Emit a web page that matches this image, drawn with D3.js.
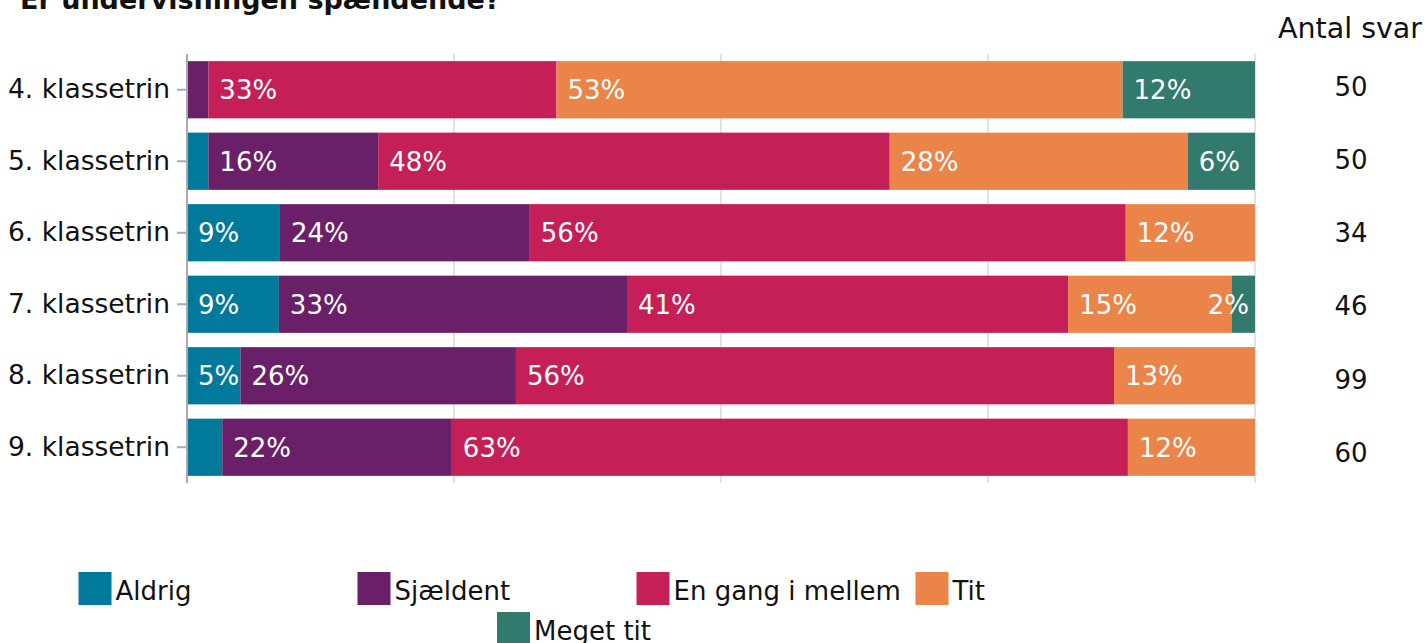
<!DOCTYPE html>
<html><head><meta charset="utf-8">
<script src="https://cdn.jsdelivr.net/npm/d3@7"></script>
<style>
html,body{margin:0;padding:0;background:#fff;}
svg{display:block;font-family:"DejaVu Sans",Verdana,sans-serif;}
</style></head>
<body>
<svg id="chart" width="1428" height="643"></svg>
<script>
const title = "Er undervisningen spændende?";
const categories = ["4. klassetrin","5. klassetrin","6. klassetrin","7. klassetrin","8. klassetrin","9. klassetrin"];
const seriesNames = ["Aldrig","Sjældent","En gang i mellem","Tit","Meget tit"];
const aldrig   = [0,   2.0,  8.7,  8.6,  5.0,  3.3];
const sjaeldent= [2.0, 15.9, 23.4, 32.6, 25.8, 21.5];
const engang   = [32.6,47.9, 55.8, 41.3, 56.0, 63.3];
const tit      = [53.0,27.9, 12.1, 15.3, 13.2, 11.9];
const megetTit = [12.4, 6.3, 0,    2.2,  0,    0];
const lblAldrig   = ["", "", "9%", "9%", "5%", ""];
const lblSjaeldent= ["", "16%", "24%", "33%", "26%", "22%"];
const lblEngang   = ["33%","48%","56%","41%","56%","63%"];
const lblTit      = ["53%","28%","12%","15%","13%","12%"];
const lblMegetTit = ["12%","6%","","2%","",""];
const counts = [50,50,34,46,99,60];
const countHeader = "Antal svar";
const xTicks = [0,25,50,75,100];
const colors = ["#00799a","#6a2068","#c42057","#ea8448","#327a6e"];

const seriesVals = [aldrig,sjaeldent,engang,tit,megetTit];
const seriesLbls = [lblAldrig,lblSjaeldent,lblEngang,lblTit,lblMegetTit];
const rows = categories.map((c,i)=>{
  const o={cat:c};
  seriesNames.forEach((s,j)=>{o[s]=seriesVals[j][i];});
  return o;
});

const svg = d3.select("#chart");
const x = d3.scaleLinear().domain([0,100]).range([187,1255]);
const y = d3.scaleBand().domain(categories).range([54,483]).paddingInner(0.2).paddingOuter(0.1);
const yCount = d3.scalePoint().domain(categories).range([86.5,452.5]);
const color = d3.scaleOrdinal().domain(seriesNames).range(colors);

// title
svg.append("text").attr("x",20).attr("y",9).attr("font-weight","bold")
  .attr("font-size",27).attr("fill","#111").text(title);

// gridlines
svg.append("g").selectAll("line").data(xTicks).join("line")
  .attr("x1",d=>x(d)).attr("x2",d=>x(d)).attr("y1",54).attr("y2",483)
  .attr("stroke","#d6d9dc").attr("stroke-width",1.5);

// bars
const stack = d3.stack().keys(seriesNames)(rows);
const gBars = svg.append("g");
stack.forEach((layer,j)=>{
  gBars.append("g").attr("fill",color(layer.key)).selectAll("rect").data(layer).join("rect")
    .attr("x",d=>x(d[0])).attr("width",d=>Math.max(0,x(d[1])-x(d[0])))
    .attr("y",d=>y(d.data.cat)).attr("height",y.bandwidth());
});
// labels
stack.forEach((layer,j)=>{
  layer.forEach((d,i)=>{
    const t = seriesLbls[j][i];
    if(!t) return;
    const txt = gBars.append("text").attr("fill","#fff").attr("font-size",26)
      .attr("x",x(d[0])+11).attr("y",y(d.data.cat)+y.bandwidth()/2).attr("dy","0.36em").text(t);
    const w = txt.node().getComputedTextLength();
    const maxX = x(100)-6;
    if(x(d[0])+11+w>maxX) txt.attr("x",maxX-w);
  });
});

// y axis
const yAxis = svg.append("g").attr("transform","translate(187,0)")
  .call(d3.axisLeft(y).tickSize(10).tickPadding(7));
yAxis.select(".domain").attr("d","M0,54V483").attr("stroke","#a7abaf").attr("stroke-width",2);
yAxis.selectAll(".tick line").attr("stroke","#a7abaf").attr("stroke-width",2).attr("x2",-10).attr("x1",-1);
yAxis.selectAll(".tick text").attr("font-size",26.5).attr("fill","#111").attr("font-family","DejaVu Sans");

// counts
svg.append("text").attr("x",1350).attr("y",38).attr("text-anchor","middle")
  .attr("font-size",28.5).attr("fill","#111").text(countHeader);
svg.append("g").selectAll("text").data(categories).join("text")
  .attr("x",1351).attr("y",d=>yCount(d)).attr("dy","0.36em").attr("text-anchor","middle")
  .attr("font-size",26).attr("fill","#111").text((d,i)=>counts[i]);

// legend
const itemW = 279, perRow = 4, legendCenter = 636.5;
const leg = svg.append("g");
seriesNames.forEach((s,i)=>{
  const r = Math.floor(i/perRow);
  const inRow = Math.min(perRow, seriesNames.length - r*perRow);
  const c = i % perRow;
  const x0 = legendCenter - inRow*itemW/2 + c*itemW;
  const y0 = 572 + r*40;
  const g = leg.append("g").attr("transform",`translate(${x0},${y0})`);
  g.append("rect").attr("width",33).attr("height",33).attr("fill",color(s));
  g.append("text").attr("x",37).attr("y",28).attr("font-size",26).attr("fill","#111").text(s);
});
</script>
</body></html>
